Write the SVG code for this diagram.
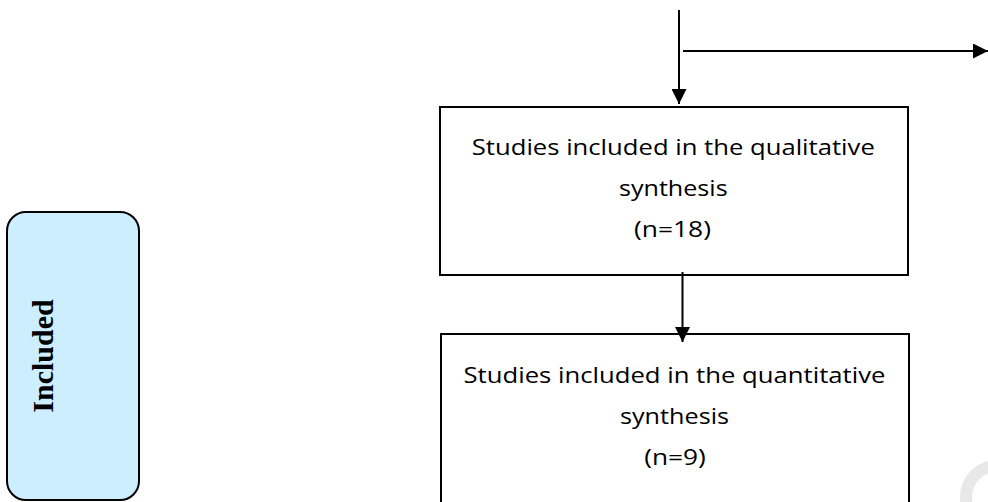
<svg xmlns="http://www.w3.org/2000/svg" width="988" height="502" viewBox="0 0 988 502">
  <defs>
    <marker id="arrow" markerUnits="userSpaceOnUse" markerWidth="15" markerHeight="15" refX="15" refY="7.5" orient="auto">
      <path d="M0,0 L15,7.5 L0,15 Z" fill="#000"/>
    </marker>
  </defs>
  <style>
    .box { fill: #ffffff; stroke: #000; stroke-width: 2; }
    .stage { fill: #cceeff; stroke: #000; stroke-width: 2; }
    .label { font-family: "Open Sans", "Liberation Sans", sans-serif; font-size: 22px; fill: #000; text-anchor: middle; }
    .stagelabel { font-family: "Liberation Serif", "Times New Roman", serif; font-size: 30px; font-weight: bold; fill: #000; text-anchor: middle; }
    .conn { stroke: #000; stroke-width: 2; fill: none; }
  </style>
  <rect width="988" height="502" fill="#ffffff"/>
  <circle cx="997" cy="497" r="31" fill="none" stroke="#e8e8e8" stroke-width="12"/>

  <g id="stage-included">
    <rect class="stage" x="7" y="212" width="132" height="288" rx="19" ry="19"/>
    <text class="stagelabel" transform="translate(53,356) rotate(-90)">Included</text>
  </g>

  <g id="node-qualitative">
    <rect class="box" x="440" y="107" width="468" height="168"/>
    <text class="label" x="673.3" y="155" textLength="403" lengthAdjust="spacingAndGlyphs">Studies included in the qualitative</text>
    <text class="label" x="673.3" y="196" textLength="108.7" lengthAdjust="spacingAndGlyphs">synthesis</text>
    <text class="label" x="672.5" y="236.7" textLength="77" lengthAdjust="spacingAndGlyphs">(n=18)</text>
  </g>

  <g id="node-quantitative">
    <rect class="box" x="441" y="334" width="468" height="200"/>
    <text class="label" x="674.5" y="383.3" textLength="422" lengthAdjust="spacingAndGlyphs">Studies included in the quantitative</text>
    <text class="label" x="674.5" y="424" textLength="109" lengthAdjust="spacingAndGlyphs">synthesis</text>
    <text class="label" x="675" y="465" textLength="61.7" lengthAdjust="spacingAndGlyphs">(n=9)</text>
  </g>

  <g id="connectors">
    <line class="conn" x1="679" y1="10" x2="679" y2="104" marker-end="url(#arrow)"/>
    <line class="conn" x1="683" y1="51" x2="988" y2="51" marker-end="url(#arrow)"/>
    <line class="conn" x1="682.5" y1="272" x2="682.5" y2="342" marker-end="url(#arrow)"/>
  </g>
</svg>
